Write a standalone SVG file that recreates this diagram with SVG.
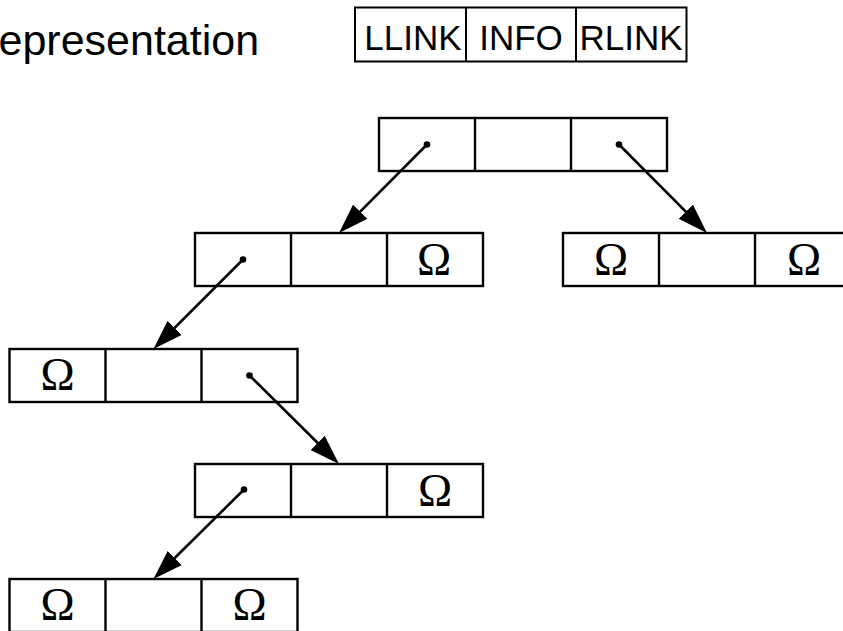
<svg xmlns="http://www.w3.org/2000/svg" width="843" height="631" viewBox="0 0 843 631">
  <style>
    .cell { fill: #ffffff; stroke: #000000; stroke-width: 2.4; }
    .div { stroke: #000000; stroke-width: 2.4; }
    .key { fill: #ffffff; stroke: #000000; stroke-width: 2; }
    .kdiv { stroke: #000000; stroke-width: 2; }
    .title { font-family: "Liberation Sans", Arial, sans-serif; font-size: 43px; fill: #000000; }
    .lbl { font-family: "Liberation Sans", Arial, sans-serif; font-size: 35px; fill: #000000; text-anchor: middle; }
    .nil { font-family: "Liberation Serif", "Times New Roman", serif; font-size: 46px; fill: #000000; text-anchor: middle; }
    .link { stroke: #000000; stroke-width: 2.6; fill: none; marker-end: url(#head); }
    .dot { fill: #000000; }
  </style>
  <defs>
    <marker id="head" markerUnits="userSpaceOnUse" viewBox="0 0 30 20" refX="20" refY="10" markerWidth="30" markerHeight="20" orient="auto">
      <path d="M0,0 L30,10 L0,20 Z" fill="#000000"/>
    </marker>
  </defs>

  <rect width="843" height="631" fill="#ffffff"/>

  <!-- heading -->
  <text class="title" x="-1.5" y="55">epresentation</text>

  <!-- field layout key -->
  <g id="legend">
    <rect class="key" x="355" y="7.5" width="331.5" height="54"/>
    <line class="kdiv" x1="466" y1="7.5" x2="466" y2="61.5"/>
    <line class="kdiv" x1="576" y1="7.5" x2="576" y2="61.5"/>
    <text class="lbl" x="413" y="50">LLINK</text>
    <text class="lbl" x="521" y="50">INFO</text>
    <text class="lbl" x="631" y="50">RLINK</text>
  </g>

  <!-- root -->
  <g id="n-root">
    <rect class="cell" x="379" y="118" width="288" height="53"/>
    <line class="div" x1="475" y1="118" x2="475" y2="171"/>
    <line class="div" x1="571" y1="118" x2="571" y2="171"/>
    <circle class="dot" cx="427" cy="144.5" r="3.3"/>
    <circle class="dot" cx="619" cy="144.5" r="3.3"/>
  </g>

  <!-- left child of root -->
  <g id="n-a">
    <rect class="cell" x="195" y="233" width="288" height="53"/>
    <line class="div" x1="291" y1="233" x2="291" y2="286"/>
    <line class="div" x1="387" y1="233" x2="387" y2="286"/>
    <circle class="dot" cx="243" cy="259.5" r="3.3"/>
    <text class="nil" x="434" y="275">Ω</text>
  </g>

  <!-- right child of root -->
  <g id="n-b">
    <rect class="cell" x="563" y="233" width="288" height="53"/>
    <line class="div" x1="659" y1="233" x2="659" y2="286"/>
    <line class="div" x1="755" y1="233" x2="755" y2="286"/>
    <text class="nil" x="611" y="275">Ω</text>
    <text class="nil" x="804" y="275">Ω</text>
  </g>

  <!-- left child of a -->
  <g id="n-c">
    <rect class="cell" x="9.5" y="349" width="288" height="53"/>
    <line class="div" x1="105.5" y1="349" x2="105.5" y2="402"/>
    <line class="div" x1="201.5" y1="349" x2="201.5" y2="402"/>
    <text class="nil" x="57.5" y="390">Ω</text>
    <circle class="dot" cx="249.5" cy="375.5" r="3.3"/>
  </g>

  <!-- right child of c -->
  <g id="n-d">
    <rect class="cell" x="195" y="464" width="288" height="53"/>
    <line class="div" x1="291" y1="464" x2="291" y2="517"/>
    <line class="div" x1="387" y1="464" x2="387" y2="517"/>
    <circle class="dot" cx="244" cy="489.5" r="3.3"/>
    <text class="nil" x="435" y="506">Ω</text>
  </g>

  <!-- left child of d -->
  <g id="n-e">
    <rect class="cell" x="9.5" y="579" width="288" height="53"/>
    <line class="div" x1="105.5" y1="579" x2="105.5" y2="632"/>
    <line class="div" x1="201.5" y1="579" x2="201.5" y2="632"/>
    <text class="nil" x="57.5" y="620">Ω</text>
    <text class="nil" x="249.5" y="620">Ω</text>
  </g>

  <!-- pointer links -->
  <g id="links">
    <line class="link" x1="427" y1="144.5" x2="346.05" y2="225.9"/>
    <line class="link" x1="619" y1="144.5" x2="699.95" y2="225.9"/>
    <line class="link" x1="243" y1="259.5" x2="160.6" y2="341.9"/>
    <line class="link" x1="249.5" y1="375.5" x2="331.9" y2="457.0"/>
    <line class="link" x1="244" y1="489.5" x2="160.6" y2="572"/>
  </g>
</svg>
